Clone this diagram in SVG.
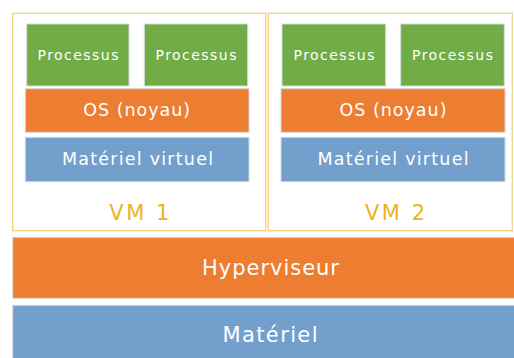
<svg xmlns="http://www.w3.org/2000/svg" width="514" height="358" viewBox="0 0 514 358">
<style>
text{font-family:"DejaVu Sans","Open Sans",sans-serif;fill:#FFFFFF;text-anchor:middle;dominant-baseline:central}
.vm{fill:#FFFFFF;stroke:#F5D17A;stroke-width:1.3}
.proc{fill:#70AD47;stroke:#D9D9D9;stroke-width:1}
.os{fill:#ED7D31;stroke:#D9D9D9;stroke-width:1}
.hw{fill:#739FCD;stroke:#D9D9D9;stroke-width:1}
.p{font-size:14px}
.m{font-size:17.5px}
.vl{fill:#EDB21C;font-size:21px}
.b{font-size:21px}
</style>
<rect width="514" height="358" fill="#FFFFFF"/>
<g id="vm1">
<rect class="vm" x="12.7" y="13.3" width="253" height="217.4"/>
<text class="vl" x="139.3" y="213" textLength="60" lengthAdjust="spacing">VM 1</text>
</g>
<g id="vm2">
<rect class="vm" x="268.3" y="13.3" width="244" height="217.4"/>
<text class="vl" x="395" y="213" textLength="60" lengthAdjust="spacing">VM 2</text>
</g>
<g id="proc1"><rect class="proc" x="26.7" y="24" width="102.3" height="62"/><text class="p" x="78" y="55" textLength="81" lengthAdjust="spacing">Processus</text></g>
<g id="proc2"><rect class="proc" x="144.3" y="24" width="103.4" height="62"/><text class="p" x="196" y="55" textLength="81" lengthAdjust="spacing">Processus</text></g>
<g id="proc3"><rect class="proc" x="282" y="24" width="103.7" height="62"/><text class="p" x="334" y="55" textLength="81" lengthAdjust="spacing">Processus</text></g>
<g id="proc4"><rect class="proc" x="400.7" y="24" width="103.6" height="62"/><text class="p" x="452.5" y="55" textLength="81" lengthAdjust="spacing">Processus</text></g>
<g id="os1"><rect class="os" x="25.3" y="88.7" width="223.7" height="43.6"/><text class="m" x="136.7" y="110" textLength="107" lengthAdjust="spacing">OS (noyau)</text></g>
<g id="os2"><rect class="os" x="281" y="88.7" width="224" height="43.6"/><text class="m" x="393" y="110" textLength="107" lengthAdjust="spacing">OS (noyau)</text></g>
<g id="mv1"><rect class="hw" x="25.3" y="137.3" width="223.7" height="44.4"/><text class="m" x="137.5" y="159" textLength="151" lengthAdjust="spacing">Matériel virtuel</text></g>
<g id="mv2"><rect class="hw" x="281" y="137.3" width="224" height="44.4"/><text class="m" x="393" y="159" textLength="151" lengthAdjust="spacing">Matériel virtuel</text></g>
<g id="hyperviseur"><rect class="os" x="12.7" y="237.3" width="520" height="61"/><text class="b" x="270.5" y="268" textLength="137" lengthAdjust="spacing">Hyperviseur</text></g>
<g id="materiel"><rect class="hw" x="12.7" y="305.3" width="520" height="60"/><text class="b" x="270" y="335" textLength="95" lengthAdjust="spacing">Matériel</text></g>
<g id="connectors"/>
</svg>
